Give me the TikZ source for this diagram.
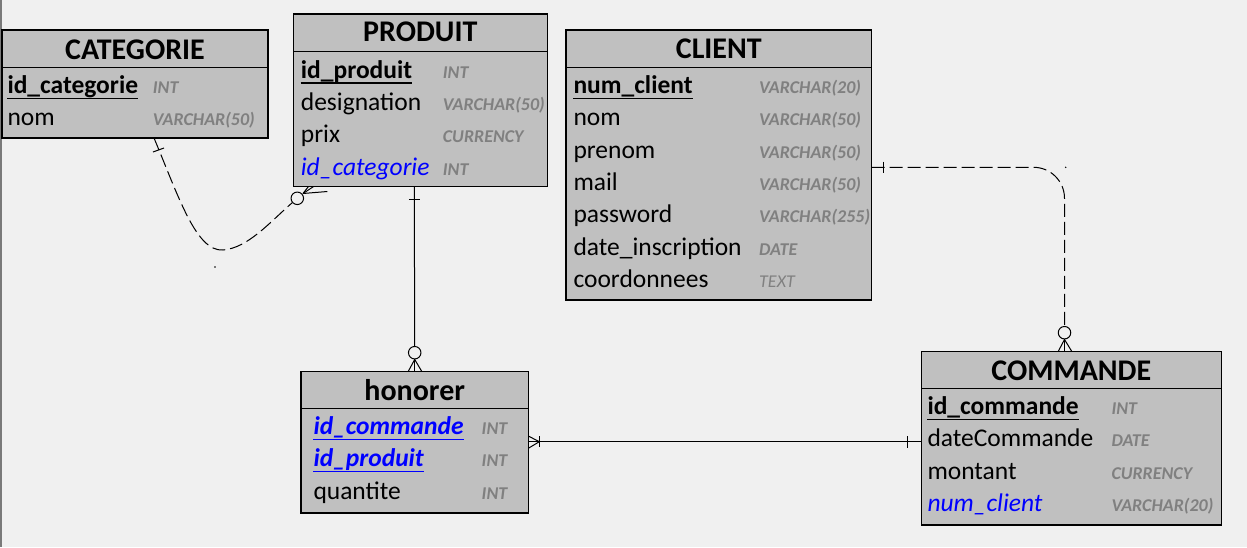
\documentclass[tikz,border=0pt]{standalone}
\usepackage{fontspec}
\setmainfont{Carlito}
\usetikzlibrary{calc}
\definecolor{bg}{HTML}{F0F0F0}
\definecolor{boxfill}{HTML}{C0C0C0}
\definecolor{typegray}{HTML}{808080}
\definecolor{fkblue}{HTML}{0000FF}
\definecolor{edgegray}{HTML}{7A7A7A}
\newcommand\ttlfont{\fontsize{30}{36}\selectfont\bfseries}
\newcommand\rowfont{\fontsize{25.5}{30}\selectfont}
\newcommand\typfont{\fontsize{18}{22}\selectfont\bfseries\itshape}
\newcommand\typlfont{\fontsize{18}{22}\selectfont\itshape}
\begin{document}
\begin{tikzpicture}[x=1pt,y=-1pt,
 tbl/.style={draw=black, fill=boxfill, line width=1.2pt, anchor=north west, inner sep=0, outer sep=0},
 hdr/.style={line width=1.2pt},
 ttl/.style={anchor=base, inner sep=0, font=\ttlfont},
 fld/.style={anchor=base west, inner sep=0, font=\rowfont},
 pk/.style={fld, font=\rowfont\bfseries},
 fk/.style={fld, font=\rowfont\itshape, text=fkblue},
 pfk/.style={fld, font=\rowfont\bfseries\itshape, text=fkblue},
 typ/.style={anchor=base west, inner sep=0, font=\typfont, text=typegray},
 typlight/.style={anchor=base west, inner sep=0, font=\typlfont, text=typegray},
 uline/.style={line width=1.4pt},
 rel/.style={line width=1pt},
 reldash/.style={rel, dash pattern=on 13pt off 5pt},
 card/.style={draw, circle, line width=1pt, inner sep=0, minimum size=12.5pt},
]
\useasboundingbox (0,0) rectangle (1247,547);
\fill[bg] (0,0) rectangle (1247,547);
\draw[line width=1.6pt, edgegray] (1.3,0) -- (1.3,547);

% ---------- CATEGORIE
\node[tbl, minimum width=266pt, minimum height=108pt] (cat) at (2,30) {};
\draw[hdr] ($(cat.north west)+(0,37.3)$) -- ($(cat.north east)+(0,37.3)$);
\node[ttl] (catT) at (135,59) {CATEGORIE};
\node[pk] (cat1) at (7.3,93.5) {id\_categorie};
\node[typ] (cat1t) at (152.7,93.5) {INT};
\node[fld] (cat2) at (7.3,125.8) {nom};
\node[typ] (cat2t) at (152.7,125.8) {VARCHAR(50)};
\draw[uline] ($(cat1.base west)+(0,4.8)$) -- ($(cat1.base east)+(0,4.8)$);

% ---------- PRODUIT
\node[tbl, minimum width=254pt, minimum height=172.7pt] (prod) at (293.3,14) {};
\draw[hdr] ($(prod.north west)+(0,37.7)$) -- ($(prod.north east)+(0,37.7)$);
\node[ttl] (prodT) at (420.3,41.7) {PRODUIT};
\node[pk] (prod1) at (300.7,78.3) {id\_produit};
\node[typ] (prod1t) at (442.7,78.3) {INT};
\node[fld] (prod2) at (300.7,110.6) {designation};
\node[typ] (prod2t) at (442.7,110.6) {VARCHAR(50)};
\node[fld] (prod3) at (300.7,142.9) {prix};
\node[typ] (prod3t) at (442.7,142.9) {CURRENCY};
\node[fk] (prod4) at (300.7,175.2) {id\_categorie};
\node[typ] (prod4t) at (442.7,175.2) {INT};
\draw[uline] ($(prod1.base west)+(0,4.8)$) -- ($(prod1.base east)+(0,4.8)$);

% ---------- CLIENT
\node[tbl, minimum width=305.7pt, minimum height=270pt] (cli) at (566,30) {};
\draw[hdr] ($(cli.north west)+(0,37.7)$) -- ($(cli.north east)+(0,37.7)$);
\node[ttl] (cliT) at (718.8,58.3) {CLIENT};
\node[pk] (cli1) at (573.3,93.5) {num\_client};
\node[typ] (cli1t) at (759,93.5) {VARCHAR(20)};
\node[fld] (cli2) at (573.3,125.8) {nom};
\node[typ] (cli2t) at (759,125.8) {VARCHAR(50)};
\node[fld] (cli3) at (573.3,158.1) {prenom};
\node[typ] (cli3t) at (759,158.1) {VARCHAR(50)};
\node[fld] (cli4) at (573.3,190.4) {mail};
\node[typ] (cli4t) at (759,190.4) {VARCHAR(50)};
\node[fld] (cli5) at (573.3,222.7) {password};
\node[typ] (cli5t) at (759,222.7) {VARCHAR(255)};
\node[fld] (cli6) at (573.3,255) {date\_inscription};
\node[typ] (cli6t) at (759,255) {DATE};
\node[fld] (cli7) at (573.3,287.3) {coordonnees};
\node[typlight] (cli7t) at (759,287.3) {TEXT};
\draw[uline] ($(cli1.base west)+(0,4.8)$) -- ($(cli1.base east)+(0,4.8)$);

% ---------- honorer
\node[tbl, minimum width=227.3pt, minimum height=141.7pt] (hon) at (301,371.3) {};
\draw[hdr] ($(hon.north west)+(0,37)$) -- ($(hon.north east)+(0,37)$);
\node[ttl] (honT) at (414.7,400) {honorer};
\node[pfk] (hon1) at (313.3,434.6) {id\_commande};
\node[typ] (hon1t) at (481.5,434.6) {INT};
\node[pfk] (hon2) at (313.3,466.9) {id\_produit};
\node[typ] (hon2t) at (481.5,466.9) {INT};
\node[fld] (hon3) at (313.3,499.2) {quantite};
\node[typ] (hon3t) at (481.5,499.2) {INT};
\draw[uline, fkblue] ($(hon1.base west)+(0,4.8)$) -- ($(hon1.base east)+(0,4.8)$);
\draw[uline, fkblue] ($(hon2.base west)+(0,4.8)$) -- ($(hon2.base east)+(0,4.8)$);

% ---------- COMMANDE
\node[tbl, minimum width=300pt, minimum height=173.7pt] (com) at (921.3,351.3) {};
\draw[hdr] ($(com.north west)+(0,37)$) -- ($(com.north east)+(0,37)$);
\node[ttl] (comT) at (1071.3,380) {COMMANDE};
\node[pk] (com1) at (927.3,414.6) {id\_commande};
\node[typ] (com1t) at (1111.3,414.6) {INT};
\node[fld] (com2) at (927.3,446.9) {dateCommande};
\node[typ] (com2t) at (1111.3,446.9) {DATE};
\node[fld] (com3) at (927.3,479.2) {montant};
\node[typ] (com3t) at (1111.3,479.2) {CURRENCY};
\node[fk] (com4) at (927.3,511.5) {num\_client};
\node[typ] (com4t) at (1111.3,511.5) {VARCHAR(20)};
\draw[uline] ($(com1.base west)+(0,4.8)$) -- ($(com1.base east)+(0,4.8)$);

% ---------- CATEGORIE -- PRODUIT (dashed)
\coordinate (r1a) at ($(cat.south west)+(152,0)$);
\node[card] (r1o) at (297.3,198.3) {};
\coordinate (r1f) at (303,193.5);
\draw[reldash] (r1a) .. controls (178,195) and (196,252) .. (223,250)
  .. controls (248,248) and (270,222) .. (r1o);
\draw[rel] ($(cat.south west)+(151,14)$) -- ($(cat.south west)+(162,10)$);
\draw[rel] (r1f) -- ($(prod.south west)+(15,0)$);
\draw[rel] (r1f) -- ($(prod.south west)+(20,0)$);
\draw[rel] (r1f) -- ($(prod.south west)+(34,4.8)$);
\fill (215,267) circle (0.8);

% ---------- PRODUIT -- honorer (solid)
\coordinate (r2a) at ($(prod.south west)+(121,0)$);
\node[card] (r2o) at (414.7,352.7) {};
\draw[rel] (r2a) -- (r2o);
\draw[rel] ($(r2a)+(-5.5,12.6)$) -- ($(r2a)+(6,12.6)$);
\draw[rel] (r2o.south) -- ($(hon.north west)+(107.3,0)$);
\draw[rel] (r2o.south) -- ($(hon.north west)+(113.7,0)$);
\draw[rel] (r2o.south) -- ($(hon.north west)+(120.7,0)$);

% ---------- honorer -- COMMANDE (solid)
\coordinate (r3a) at ($(hon.north east)+(0,70.4)$);
\coordinate (r3b) at ($(com.north west)+(0,90.4)$);
\coordinate (r3f) at ($(r3a)+(11,0)$);
\draw[rel] (r3a) -- (r3b);
\draw[rel] ($(hon.north east)+(0,64.7)$) -- (r3f) -- ($(hon.north east)+(0,77)$);
\draw[rel] ($(r3f)+(0,-5.3)$) -- ($(r3f)+(0,5.7)$);
\draw[rel] ($(r3b)+(-14.3,-5.3)$) -- ($(r3b)+(-14.3,6.3)$);

% ---------- CLIENT -- COMMANDE (dashed)
\coordinate (r4a) at ($(cli.north east)+(0,137.3)$);
\node[card] (r4o) at (1064.5,332.7) {};
\draw[reldash, rounded corners=31pt] (r4a) -| (r4o);
\draw[rel] ($(r4a)+(11.6,-5.6)$) -- ($(r4a)+(11.6,6)$);
\draw[rel] (r4o.south) -- ($(com.north west)+(137,0)$);
\draw[rel] (r4o.south) -- ($(com.north west)+(143.2,0)$);
\draw[rel] (r4o.south) -- ($(com.north west)+(150.4,0)$);
\fill (1065.7,167.3) circle (0.8);
\end{tikzpicture}
\end{document}
